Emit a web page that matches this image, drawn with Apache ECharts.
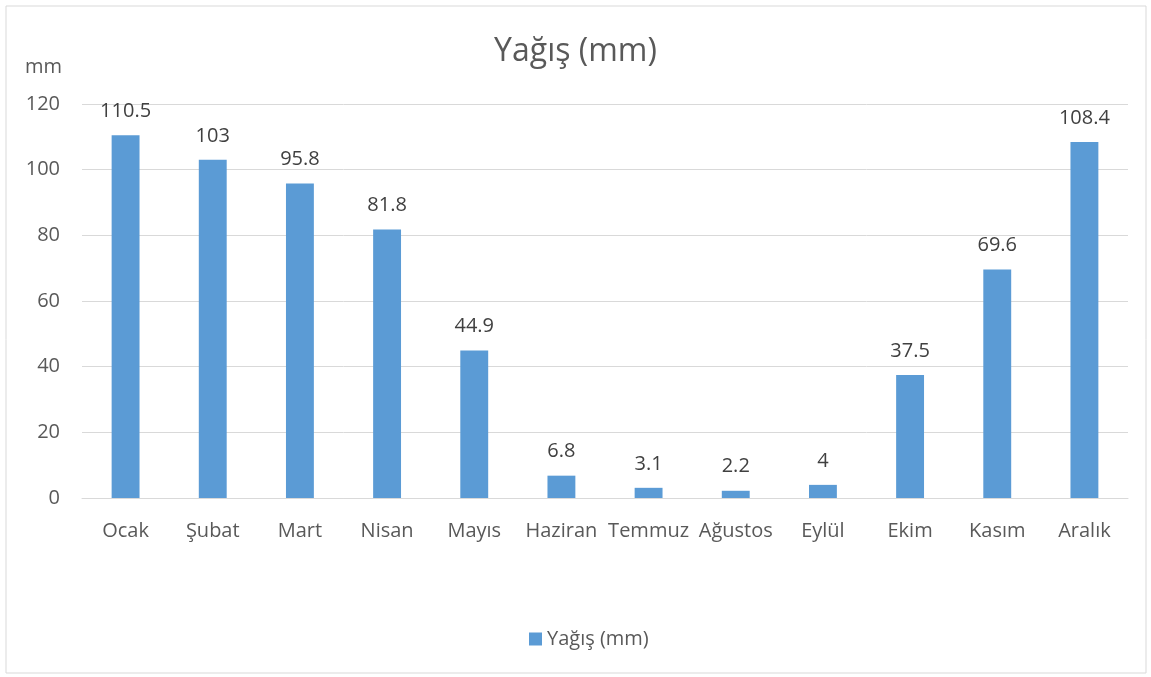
<!DOCTYPE html>
<html><head><meta charset="utf-8">
<script src="https://cdn.jsdelivr.net/npm/echarts@6/dist/echarts.min.js"></script>
<style>html,body{margin:0;padding:0;background:#fff}#c{width:1151px;height:677px}</style>
</head><body><div id="c"></div>
<script>
const categories = ['Ocak','Şubat','Mart','Nisan','Mayıs','Haziran','Temmuz','Ağustos','Eylül','Ekim','Kasım','Aralık'];
const values = [110.5,103,95.8,81.8,44.9,6.8,3.1,2.2,4,37.5,69.6,108.4];
const seriesName = 'Yağış (mm)';
const FONT = '"Open Sans", "Noto Sans", sans-serif';
const chart = echarts.init(document.getElementById('c'));
chart.setOption({
  animation: false,
  graphic: [{type:'rect', shape:{x:6,y:6,width:1140,height:667}, style:{fill:'none', stroke:'#d9d9d9', lineWidth:1}}],
  title: {text: 'Yağış (mm)', left: 'center', top: 31, textStyle:{fontFamily:FONT, fontSize:32, fontWeight:'normal', color:'#595959'}},
  legend: {bottom: 23, left: 524, itemWidth:13, itemHeight:13, itemGap:4, icon:'rect', textStyle:{fontFamily:FONT, fontSize:20, color:'#595959'}, data:[seriesName]},
  grid: {left: 82, right: 23, top: 104, bottom: 179},
  xAxis: {type:'category', data: categories, axisTick:{show:false}, axisLine:{lineStyle:{color:'#d9d9d9'}},
    axisLabel:{fontFamily:FONT, fontSize:20, color:'#595959', margin:23, interval:0}},
  yAxis: {type:'value', min:0, max:120, interval:20, name:'mm', nameLocation:'end', nameGap:27,
    nameTextStyle:{fontFamily:FONT, fontSize:20, color:'#595959', align:'right', padding:[0,20,0,0]},
    axisLine:{show:false}, axisTick:{show:false}, splitLine:{lineStyle:{color:'#d9d9d9'}},
    axisLabel:{fontFamily:FONT, fontSize:20, color:'#595959', margin:22}},
  series: [{name: seriesName, type:'bar', data: values, barWidth:'32%', itemStyle:{color:'#5b9bd5'},
    label:{show:true, position:'top', distance:14, fontFamily:FONT, fontSize:20, color:'#404040'}}]
});
</script></body></html>
